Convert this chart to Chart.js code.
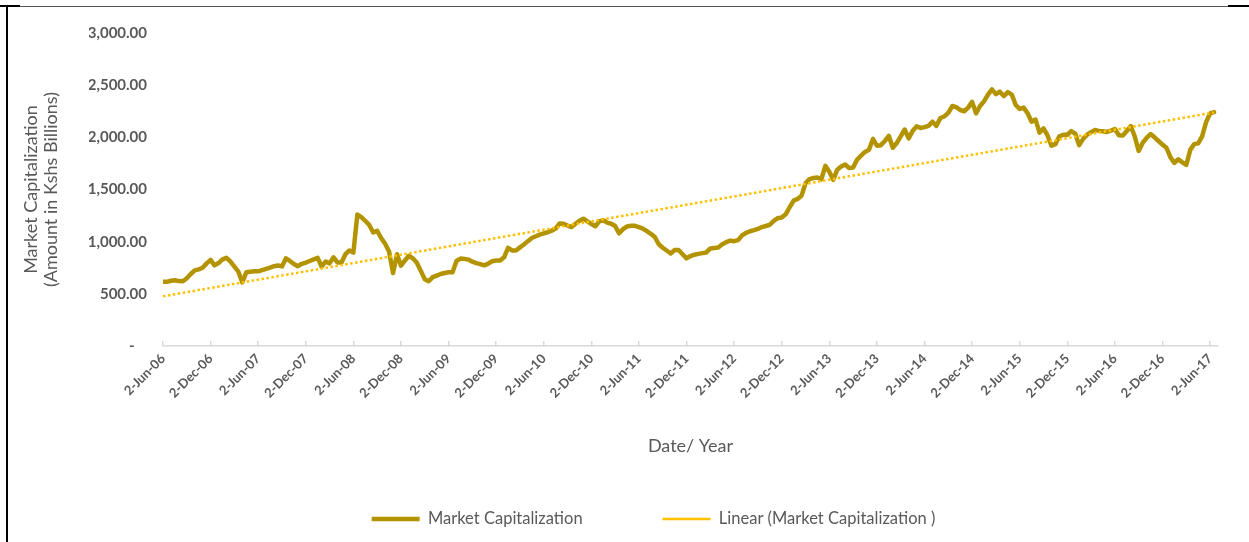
<!DOCTYPE html>
<html>
<head>
<meta charset="utf-8">
<title>Market Capitalization</title>
<script src="https://cdn.jsdelivr.net/npm/chart.js@4.4.1/dist/chart.umd.min.js"></script>
<style>
  html, body { margin: 0; padding: 0; background: #fff; }
  #frame { position: relative; width: 1249px; height: 542px; overflow: hidden; background: #fff; }
  #frame canvas { position: absolute; left: 0; top: 0; }
  .rule { position: absolute; background: #000; }
</style>
</head>
<body>
<div id="frame">
  <canvas id="chart" width="1249" height="542"></canvas>
  <div class="rule" style="left:0;top:5px;width:20px;height:2px"></div>
  <div class="rule" style="left:20px;top:6px;width:1208px;height:1px;background:#555"></div>
  <div class="rule" style="left:1228px;top:5px;width:21px;height:2px"></div>
  <div class="rule" style="left:6px;top:5px;width:2px;height:537px"></div>
</div>
<script>
// Semi-annual axis labels (one every 12 half-month samples)
const tickLabels = [
  '2-Jun-06', '2-Dec-06', '2-Jun-07', '2-Dec-07', '2-Jun-08', '2-Dec-08',
  '2-Jun-09', '2-Dec-09', '2-Jun-10', '2-Dec-10', '2-Jun-11', '2-Dec-11',
  '2-Jun-12', '2-Dec-12', '2-Jun-13', '2-Dec-13', '2-Jun-14', '2-Dec-14',
  '2-Jun-15', '2-Dec-15', '2-Jun-16', '2-Dec-16', '2-Jun-17'
];
const samplesPerTick = 12;

// Market capitalization, Kshs billions, sampled twice a month from 2-Jun-06
const marketCap = [
  615, 615, 625, 630, 622, 620, 650, 690, 725, 735, 750, 792,
  825, 773, 795, 830, 845, 810, 760, 712, 610, 706, 712, 716,
  716, 728, 740, 752, 765, 772, 763, 840, 815, 785, 765, 788,
  800, 815, 830, 845, 760, 810, 792, 850, 801, 801, 880, 916,
  895, 1260, 1235, 1200, 1160, 1088, 1105, 1035, 980, 905, 700, 880,
  770, 820, 865, 840, 798, 720, 640, 620, 660, 675, 690, 700,
  706, 706, 815, 838, 835, 828, 808, 795, 785, 773, 790, 812,
  820, 820, 850, 940, 916, 916, 945, 973, 1005, 1035, 1052, 1068,
  1080, 1090, 1105, 1125, 1175, 1172, 1155, 1140, 1172, 1200, 1220, 1195,
  1170, 1148, 1195, 1205, 1183, 1172, 1150, 1080, 1120, 1146, 1152, 1152,
  1140, 1125, 1100, 1075, 1045, 975, 942, 915, 887, 920, 920, 880,
  840, 862, 875, 883, 890, 897, 935, 940, 945, 975, 995, 1010,
  1005, 1015, 1060, 1085, 1100, 1110, 1122, 1140, 1150, 1162, 1200, 1225,
  1232, 1262, 1330, 1393, 1410, 1441, 1560, 1600, 1610, 1615, 1600, 1727,
  1670, 1593, 1690, 1720, 1740, 1705, 1710, 1785, 1825, 1860, 1880, 1985,
  1920, 1925, 1965, 2015, 1900, 1945, 2010, 2075, 1990, 2060, 2105, 2090,
  2098, 2110, 2150, 2110, 2185, 2200, 2235, 2300, 2290, 2262, 2250, 2285,
  2340, 2230, 2300, 2345, 2410, 2460, 2414, 2438, 2395, 2433, 2410, 2310,
  2272, 2285, 2230, 2150, 2170, 2045, 2085, 2020, 1920, 1935, 2010, 2025,
  2025, 2060, 2035, 1925, 1985, 2025, 2050, 2070, 2062, 2058, 2052, 2065,
  2080, 2020, 2018, 2060, 2108, 2010, 1870, 1946, 1995, 2032, 2000, 1965,
  1930, 1900, 1810, 1755, 1790, 1760, 1735, 1880, 1935, 1942, 2010, 2145,
  2230, 2242
];

const GOLD = '#B39400';
const TREND = '#FFC000';
const TEXT = '#595959';

// Least-squares linear trend of the series
function linearTrend(values) {
  const n = values.length;
  let sx = 0, sy = 0, sxx = 0, sxy = 0;
  values.forEach((v, i) => { sx += i; sy += v; sxx += i * i; sxy += i * v; });
  const slope = (n * sxy - sx * sy) / (n * sxx - sx * sx);
  const intercept = (sy - slope * sx) / n;
  return [{ x: 0, y: intercept }, { x: n - 1, y: intercept + slope * (n - 1) }];
}

const seriesPoints = marketCap.map((v, i) => ({ x: i, y: v }));
const trendPoints = linearTrend(marketCap);

new Chart(document.getElementById('chart'), {
  type: 'line',
  data: {
    datasets: [
      {
        label: 'Market Capitalization',
        data: seriesPoints,
        borderColor: GOLD,
        backgroundColor: GOLD,
        borderWidth: 4.5,
        borderJoinStyle: 'round',
        borderCapStyle: 'round',
        pointRadius: 0,
        tension: 0,
        order: 1
      },
      {
        label: 'Linear (Market Capitalization )',
        data: trendPoints,
        borderColor: TREND,
        backgroundColor: TREND,
        borderWidth: 2.5,
        borderDash: [2.5, 2.5],
        pointRadius: 0,
        tension: 0,
        order: 0
      }
    ]
  },
  options: {
    responsive: false,
    animation: false,
    layout: { padding: { left: 89, right: 31, top: 33, bottom: 4.75 } },
    plugins: {
      tooltip: { enabled: false },
      legend: {
        position: 'bottom',
        labels: {
          usePointStyle: true,
          pointStyle: 'line',
          pointStyleWidth: 48,
          padding: 80,
          color: TEXT,
          font: { family: 'Lato', size: 16.5 },
          sort: (a, b) => a.datasetIndex - b.datasetIndex
        }
      }
    },
    scales: {
      x: {
        type: 'linear',
        min: 0,
        max: 266,
        afterBuildTicks: (scale) => {
          scale.ticks = tickLabels.map((_, i) => ({ value: i * samplesPerTick }));
        },
        afterFit: (scale) => { scale.height = 84.75; },
        grid: { drawOnChartArea: false, drawTicks: true, tickLength: -5, color: '#d9d9d9', lineWidth: 1.5 },
        border: { color: '#d9d9d9', width: 1.5 },
        ticks: {
          autoSkip: false,
          maxRotation: 45,
          minRotation: 45,
          padding: 10,
          color: TEXT,
          font: { family: 'Lato', size: 13, weight: 'bold' },
          callback: (value, index) => tickLabels[index]
        },
        title: {
          display: true,
          text: 'Date/ Year',
          color: TEXT,
          font: { family: 'Lato', size: 18 },
          padding: { top: 0, bottom: -26 }
        }
      },
      y: {
        min: 0,
        max: 3000,
        afterFit: (scale) => { scale.width = 74; },
        grid: { display: false, drawTicks: false },
        border: { display: false },
        ticks: {
          stepSize: 500,
          padding: 16,
          color: TEXT,
          font: { family: 'Lato', size: 15, weight: 'bold' },
          callback: (v) => v === 0 ? '-\u2007 ' : v.toLocaleString('en-US', { minimumFractionDigits: 2, maximumFractionDigits: 2 })
        },
        title: {
          display: true,
          text: ['Market Capitalization', '(Amount in Kshs Billions)'],
          color: TEXT,
          font: { family: 'Lato', size: 18, lineHeight: 1.11 },
          padding: { top: -68, bottom: 0 }
        }
      }
    }
  }
});
</script>
</body>
</html>
